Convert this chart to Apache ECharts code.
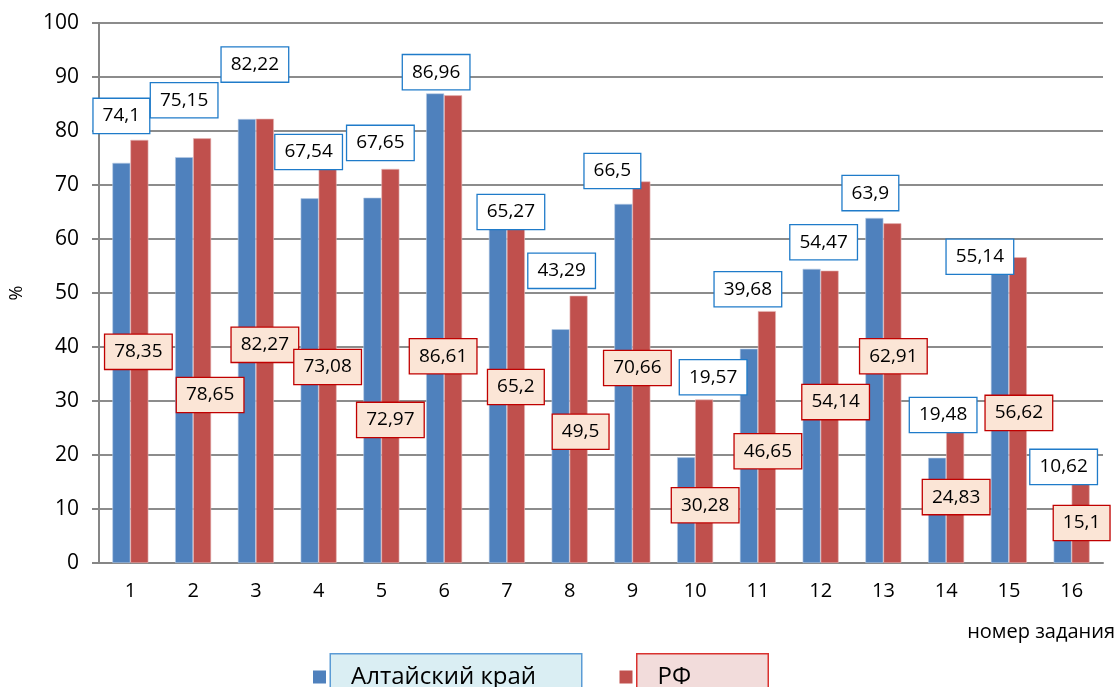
<!DOCTYPE html>
<html>
<head>
<meta charset="utf-8">
<script src="https://cdn.jsdelivr.net/npm/echarts@6/dist/echarts.min.js"></script>
<style>
  html, body { margin: 0; padding: 0; background: #fff; }
  #chart { width: 1118px; height: 687px; }
</style>
</head>
<body>
<div id="chart"></div>
<script>
// номера заданий
const tasks = ['1', '2', '3', '4', '5', '6', '7', '8', '9', '10', '11', '12', '13', '14', '15', '16']
// Алтайский край
const altai = [74.1, 75.15, 82.22, 67.54, 67.65, 86.96, 65.27, 43.29, 66.5, 19.57, 39.68, 54.47, 63.9, 19.48, 55.14, 10.62]
// РФ
const rf = [78.35, 78.65, 82.27, 73.08, 72.97, 86.61, 65.2, 49.5, 70.66, 30.28, 46.65, 54.14, 62.91, 24.83, 56.62, 15.1]

// где стоят подписи (центр рамки по оси Y, сдвиг по X в px) — подписи разнесены вручную, как в оригинале
const altaiLabelY = [82.8, 85.7, 92.3, 76.1, 77.8, 90.9, 65.0, 54.1, 72.6, 34.4, 50.7, 59.4, 68.5, 27.4, 56.7, 17.8]
const altaiLabelDx = [-9, -9, -1, -10, -1, -8, 4, -8, -20, 18, -10, 3, -13, -3, -29, -8]
const rfLabelY = [39.1, 31.1, 40.4, 36.3, 26.5, 38.3, 32.6, 24.3, 36.1, 10.7, 20.7, 29.8, 38.3, 12.2, 27.8, 7.4]
const rfLabelDx = [8, 17, 9, 9, 9, -1, 9, 11, 5, 10, 10, 15, 10, 10, 10, 10]

const FONT = '"Open Sans", "Noto Sans", sans-serif'
const fmt = v => String(v).replace('.', ',')

const chart = echarts.init(document.getElementById('chart'))

const labelSeries = (name, values, ys, dxs, box) => ({
  name,
  type: 'scatter',
  symbolSize: 0,
  silent: true,
  z: 10,
  itemStyle: { opacity: 1 },
  data: ys.map((y, i) => ({
    value: [i, y],
    label: { offset: [dxs[i], 0] }
  })),
  label: {
    show: true,
    position: 'inside',
    formatter: p => fmt(values[p.dataIndex]),
    fontFamily: FONT,
    fontSize: 19,
    color: '#000',
    opacity: 1,
    lineHeight: 22,
    padding: [6, 9, 6, 9],
    backgroundColor: box.bg,
    borderColor: box.border,
    borderWidth: 1.3
  }
})

const option = {
  animation: false,
  grid: { left: 97, right: 15, top: 23, bottom: 124 },
  legend: {
    left: 313,
    top: 653,
    padding: 0,
    itemGap: 37,
    itemWidth: 13,
    itemHeight: 13,
    icon: 'rect',
    itemStyle: { borderWidth: 0 },
    data: [
      {
        name: 'Алтайский край',
        textStyle: {
          fontFamily: FONT, fontSize: 24, color: '#000', lineHeight: 30,
          width: 210, padding: [5, 20, 10, 20],
          backgroundColor: '#DAEEF3', borderColor: '#5B9BD5', borderWidth: 1.5
        }
      },
      {
        name: 'РФ',
        textStyle: {
          fontFamily: FONT, fontSize: 24, color: '#000', lineHeight: 30,
          width: 90, padding: [5, 20, 10, 20],
          backgroundColor: '#F2DCDB', borderColor: '#D9322F', borderWidth: 1.5
        }
      }
    ]
  },
  xAxis: {
    type: 'category',
    data: tasks,
    axisLine: { lineStyle: { color: '#868686', width: 2 } },
    axisTick: { show: false },
    axisLabel: { fontFamily: FONT, fontSize: 20, color: '#000', margin: 18 }
  },
  yAxis: {
    type: 'value',
    min: 0,
    max: 100,
    interval: 10,
    name: '%',
    nameLocation: 'middle',
    nameRotate: 90,
    nameGap: 73,
    nameTextStyle: { fontFamily: FONT, fontSize: 18, color: '#000' },
    axisLine: { show: true, lineStyle: { color: '#868686', width: 2 } },
    axisTick: { show: true, length: 7, lineStyle: { color: '#868686', width: 2 } },
    axisLabel: { fontFamily: FONT, fontSize: 21, color: '#000', margin: 20 },
    splitLine: { lineStyle: { color: '#8C8C8C', width: 2 } }
  },
  series: [
    {
      name: 'Алтайский край',
      type: 'bar',
      data: altai,
      barWidth: 18,
      barGap: '0%',
      itemStyle: { color: '#4F81BD', borderColor: '#B9CDE5', borderWidth: 0.6 }
    },
    {
      name: 'РФ',
      type: 'bar',
      data: rf,
      barWidth: 18,
      itemStyle: { color: '#C0504D', borderColor: '#E6B9B8', borderWidth: 0.6 }
    },
    labelSeries('altaiLabels', altai, altaiLabelY, altaiLabelDx, { bg: '#FFFFFF', border: '#1F7BC9' }),
    labelSeries('rfLabels', rf, rfLabelY, rfLabelDx, { bg: '#FBE5D6', border: '#C00000' })
  ],
  graphic: [
    {
      type: 'text',
      right: 3,
      top: 622,
      style: { text: 'номер задания', fontFamily: FONT, fontSize: 20, fill: '#000' }
    }
  ]
}

chart.setOption(option)
</script>
</body>
</html>
